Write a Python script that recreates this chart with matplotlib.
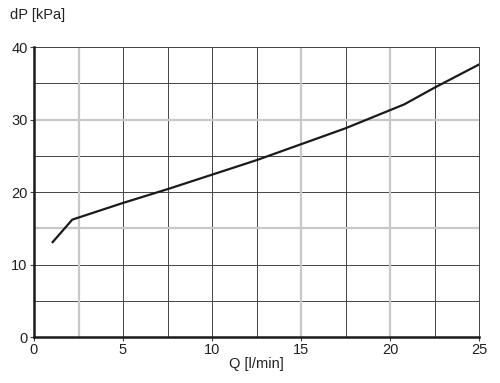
import numpy as np
import matplotlib
matplotlib.use("Agg")
import matplotlib.pyplot as plt

plt.rcParams['font.family'] = ['Liberation Sans', 'DejaVu Sans']

# flow Q [l/min] vs pressure drop dP [kPa]
Q = [1.05, 2.15, 5.0, 7.5, 10.0, 12.5, 15.0, 17.5, 20.0, 20.8, 22.5, 25.0]
dP = [13.1, 16.2, 18.5, 20.4, 22.4, 24.4, 26.6, 28.8, 31.3, 32.1, 34.4, 37.6]

xticks = [0, 5, 10, 15, 20, 25]
yticks = [0, 10, 20, 30, 40]

# grid lines that come out lighter/wider in the original scan
light_x = [2.5, 15, 20]
light_y = [15, 30]

fig = plt.figure(figsize=(5.0, 3.83), dpi=100)
ax = fig.add_axes([0.068, 0.120, 0.890, 0.757])

ax.plot(Q, dP, color='#1a1a1a', lw=1.6, zorder=3)

ax.set_xlim(0, 25)
ax.set_ylim(0, 40)
ax.set_xticks(xticks)
ax.set_yticks(yticks)
ax.set_xticks(np.arange(0, 25.1, 2.5), minor=True)
ax.set_yticks(np.arange(0, 40.1, 5), minor=True)
ax.grid(True, which='both', color='#444444', lw=0.7, zorder=1)

for v in light_x:
    ax.axvline(v, color='#c8c8c8', lw=1.6, zorder=2)
for v in light_y:
    ax.axhline(v, color='#c8c8c8', lw=1.6, zorder=2)

for s in ['top', 'right']:
    ax.spines[s].set_color('#444444')
    ax.spines[s].set_linewidth(0.7)
for s in ['left', 'bottom']:
    ax.spines[s].set_color('#1a1a1a')
    ax.spines[s].set_linewidth(1.8)
    ax.spines[s].set_zorder(4)

ax.tick_params(which='major', length=3, width=0.8, color='#444444',
               labelsize=10.5, labelcolor='#222222', pad=1.5)
ax.tick_params(which='minor', length=0)

ax.set_xlabel('Q [l/min]', fontsize=10.5, color='#222222', labelpad=0)
fig.text(0.02, 0.96, 'dP [kPa]', fontsize=10.5, color='#222222', va='center', ha='left')

fig.savefig('out.png', dpi=100)
